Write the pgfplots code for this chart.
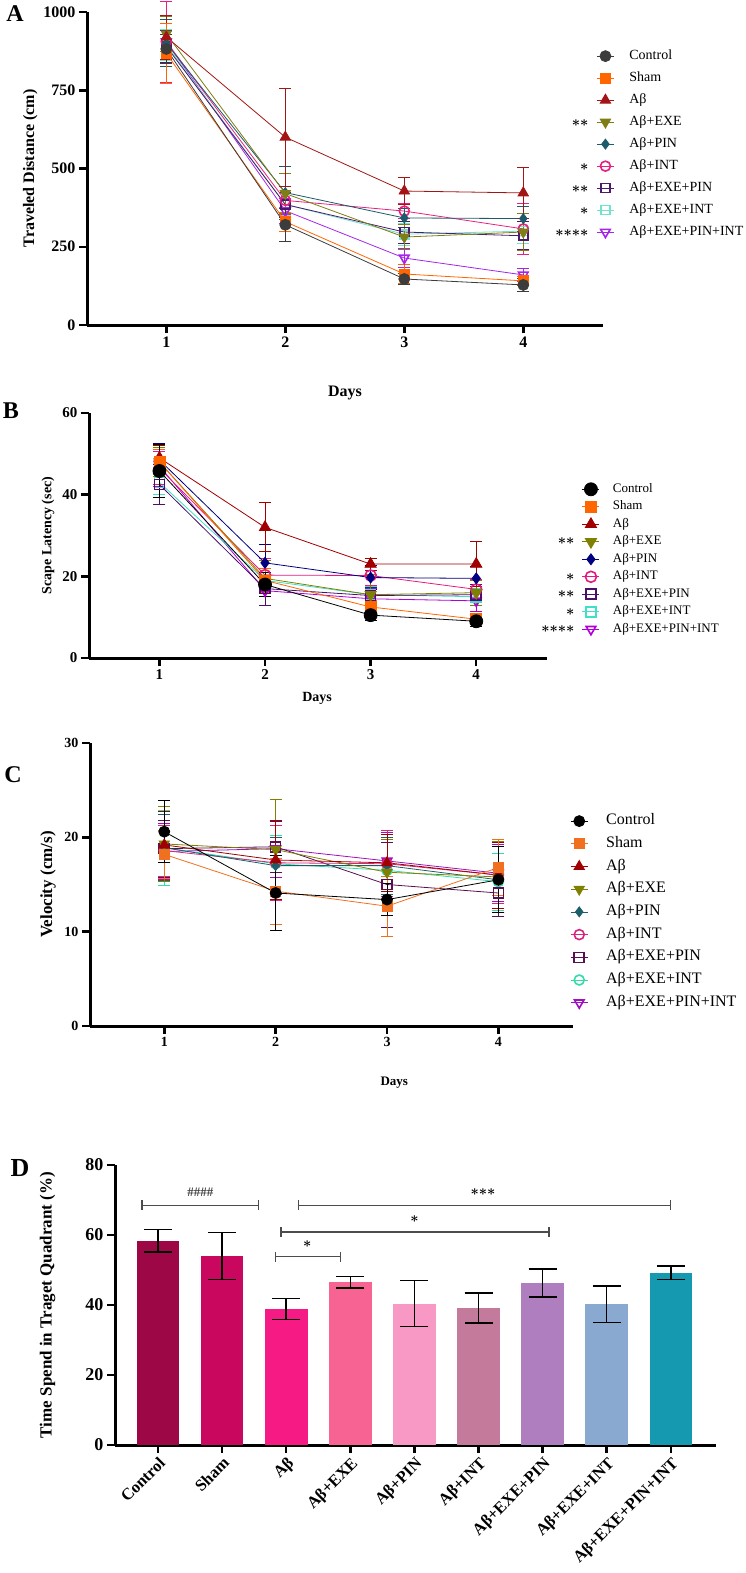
\documentclass[border=0pt]{standalone}
\usepackage{fontspec}
\setmainfont{Liberation Serif}
\usepackage{pgfplots}
\pgfplotsset{compat=1.18}
% panel A colours
\definecolor{a1}{HTML}{3C3C3C}\definecolor{a2}{HTML}{FF6600}\definecolor{a3}{HTML}{A31515}
\definecolor{a4}{HTML}{7E7E14}\definecolor{a5}{HTML}{1B5B6B}\definecolor{a6}{HTML}{E8207F}
\definecolor{a7}{HTML}{4B1A6B}\definecolor{a8}{HTML}{6FE3CB}\definecolor{a9}{HTML}{A526E8}
% panel B colours
\definecolor{b1}{HTML}{000000}\definecolor{b2}{HTML}{FF6600}\definecolor{b3}{HTML}{A00000}
\definecolor{b4}{HTML}{808000}\definecolor{b5}{HTML}{000080}\definecolor{b6}{HTML}{E6197E}
\definecolor{b7}{HTML}{4B0F6B}\definecolor{b8}{HTML}{3FE0C8}\definecolor{b9}{HTML}{B000D8}
% panel C colours
\definecolor{c1}{HTML}{000000}\definecolor{c2}{HTML}{F07020}\definecolor{c3}{HTML}{A00000}
\definecolor{c4}{HTML}{808000}\definecolor{c5}{HTML}{1C5F6B}\definecolor{c6}{HTML}{D8257D}
\definecolor{c7}{HTML}{5A1050}\definecolor{c8}{HTML}{33DDAA}\definecolor{c9}{HTML}{A010C0}
% panel D colours
\definecolor{d1}{HTML}{9E0746}\definecolor{d2}{HTML}{C9075F}\definecolor{d3}{HTML}{F51A84}
\definecolor{d4}{HTML}{F76494}\definecolor{d5}{HTML}{F799C4}\definecolor{d6}{HTML}{C47A9B}
\definecolor{d7}{HTML}{AE7EBE}\definecolor{d8}{HTML}{8AA9D1}\definecolor{d9}{HTML}{1599B1}

\pgfplotsset{
  panel/.style={
    scale only axis, anchor=south west, clip=false,
    axis x line*=bottom, axis y line*=left,
    axis line style={line width=3pt, -},
    tick align=outside, major tick length=8pt,
    every tick/.style={black, line width=2.5pt},
    /pgf/number format/assume math mode=true,
    /pgf/number format/1000 sep={},
    xmin=0.3333, xmax=4.67, xtick={1,2,3,4},
    reverse legend, legend cell align=left,
  },
  eb/.style={error bars/y dir=both, error bars/y explicit,
     error bars/error bar style={line width=0.8pt, solid},
     error bars/error mark options={rotate=90, line width=0.8pt, mark size=#1, solid}},
  eb/.default=6pt,
  fser/.style n args={4}{color=#1, line width=0.8pt, mark=#2, mark size=#3,
     mark options={solid, fill=#1, line width=0.8pt, #4}},
  oser/.style n args={4}{color=#1, line width=0.8pt, mark=#2, mark size=#3,
     mark options={solid, fill=white, line width=1.6pt, #4}},
}
\newcommand{\stars}[1]{{\fontsize{15}{15}\selectfont\boldmath$#1$}}

\begin{document}
\begin{tikzpicture}[x=1pt,y=1pt]
\path[use as bounding box] (0,0) rectangle (746,-1573);

% ---------------- Panel A ----------------
\begin{axis}[panel, at={(87pt,-325pt)}, width=516pt, height=313pt,
  ymin=0, ymax=1000, ytick={0,250,500,750,1000},
  tick label style={font=\fontsize{16}{16}\selectfont\bfseries},
  xlabel={Days}, ylabel={Traveled Distance (cm)},
  every axis x label/.style={at={(axis description cs:0.5,-0.217)}, anchor=center, font=\fontsize{16}{16}\selectfont\bfseries},
  every axis y label/.style={at={(axis description cs:-0.110,0.5)}, rotate=90, anchor=center, font=\fontsize{16}{16}\selectfont\bfseries},
  legend style={draw=none, fill=none, at={(axis description cs:0.987,0.882)}, anchor=north west,
    font=\fontsize{14}{14}\selectfont, row sep=8pt, column sep=15pt, inner sep=0pt,
    nodes={inner sep=0pt, text height=10pt, text depth=4pt}},
]
\addplot[oser={a9}{triangle}{5.5pt}{rotate=180}, eb] coordinates {(1,905)+-(0,60) (2,365)+-(0,40) (3,214)+-(0,30) (4,160)+-(0,20)};
\addlegendentry{Aβ+EXE+PIN+INT}
\addplot[oser={a8}{square}{4.5pt}{}, eb] coordinates {(1,895)+-(0,50) (2,385)+-(0,35) (3,290)+-(0,35) (4,300)+-(0,40)};
\addlegendentry{Aβ+EXE+INT}
\addplot[oser={a7}{square}{4.5pt}{}, eb] coordinates {(1,890)+-(0,50) (2,385)+-(0,40) (3,297)+-(0,35) (4,285)+-(0,45)};
\addlegendentry{Aβ+EXE+PIN}
\addplot[oser={a6}{o}{5pt}{}, eb] coordinates {(1,905)+-(0,130) (2,398)+-(0,45) (3,364)+-(0,25) (4,307)+-(0,80)};
\addlegendentry{Aβ+INT}
\addplot[fser={a5}{diamond*}{5pt}{}, eb] coordinates {(1,900)+-(0,75) (2,423)+-(0,85) (3,342)+-(0,30) (4,340)+-(0,40)};
\addlegendentry{Aβ+PIN}
\addplot[fser={a4}{triangle*}{6pt}{rotate=180}, eb] coordinates {(1,930)+-(0,55) (2,420)+-(0,65) (3,281)+-(0,40) (4,297)+-(0,60)};
\addlegendentry{Aβ+EXE}
\addplot[fser={a3}{triangle*}{6pt}{}, eb] coordinates {(1,920)+-(0,70) (2,600)+-(0,157) (3,428)+-(0,42) (4,422)+-(0,80)};
\addlegendentry{Aβ}
\addplot[fser={a2}{square*}{5pt}{}, eb] coordinates {(1,868)+-(0,95) (2,330)+-(0,30) (3,163)+-(0,30) (4,141)+-(0,15)};
\addlegendentry{Sham}
\addplot[fser={a1}{*}{5.5pt}{}, eb] coordinates {(1,882)+-(0,45) (2,320)+-(0,52) (3,147)+-(0,18) (4,128)+-(0,20)};
\addlegendentry{Control}
\end{axis}
\node[anchor=east] at (592,-123) {\stars{{\ast}{\ast}}};
\node[anchor=east] at (592,-167) {\stars{{\ast}}};
\node[anchor=east] at (592,-189) {\stars{{\ast}{\ast}}};
\node[anchor=east] at (592,-211) {\stars{{\ast}}};
\node[anchor=east] at (592,-233) {\stars{{\ast}{\ast}{\ast}{\ast}}};
\node[font=\fontsize{24}{24}\selectfont\bfseries] at (15,-14) {A};

% ---------------- Panel B ----------------
\begin{axis}[panel, at={(89pt,-658pt)}, width=458pt, height=245pt,
  ymin=0, ymax=60, ytick={0,20,40,60},
  tick label style={font=\fontsize{15}{15}\selectfont\bfseries},
  xlabel={Days}, ylabel={Scape Latency (sec)},
  every axis x label/.style={at={(axis description cs:0.498,-0.167)}, anchor=center, font=\fontsize{14}{14}\selectfont\bfseries},
  every axis y label/.style={at={(axis description cs:-0.0895,0.5)}, rotate=90, anchor=center, font=\fontsize{14}{14}\selectfont\bfseries},
  legend style={draw=none, fill=none, at={(axis description cs:1.076,0.716)}, anchor=north west,
    font=\fontsize{13}{13}\selectfont, row sep=4.5pt, column sep=13pt, inner sep=0pt,
    nodes={inner sep=0pt, text height=9.5pt, text depth=3.5pt}},
]
\addplot[oser={b9}{triangle}{5.5pt}{rotate=180}, eb] coordinates {(1,47)+-(0,5) (2,16.5)+-(0,3.5) (3,14.5)+-(0,2.5) (4,14)+-(0,2.5)};
\addlegendentry{Aβ+EXE+PIN+INT}
\addplot[oser={b8}{square}{5pt}{}, eb] coordinates {(1,43)+-(0,3) (2,19)+-(0,3) (3,15.5)+-(0,2) (4,15)+-(0,2)};
\addlegendentry{Aβ+EXE+INT}
\addplot[oser={b7}{square}{5pt}{}, eb] coordinates {(1,42.5)+-(0,5) (2,17)+-(0,4) (3,15.3)+-(0,2) (4,15.5)+-(0,2.5)};
\addlegendentry{Aβ+EXE+PIN}
\addplot[oser={b6}{o}{5.5pt}{}, eb] coordinates {(1,46.5)+-(0,4) (2,20.3)+-(0,4) (3,20.2)+-(0,2.5) (4,16.8)+-(0,2.5)};
\addlegendentry{Aβ+INT}
\addplot[fser={b5}{diamond*}{5.5pt}{}, eb] coordinates {(1,48.5)+-(0,4) (2,23.3)+-(0,4.5) (3,19.7)+-(0,3) (4,19.5)+-(0,3)};
\addlegendentry{Aβ+PIN}
\addplot[fser={b4}{triangle*}{6.5pt}{rotate=180}, eb] coordinates {(1,48)+-(0,3.5) (2,19.5)+-(0,4.5) (3,15.5)+-(0,5) (4,16)+-(0,3)};
\addlegendentry{Aβ+EXE}
\addplot[fser={b3}{triangle*}{6.5pt}{}, eb] coordinates {(1,49)+-(0,3) (2,32)+-(0,6) (3,23)+-(0,1.5) (4,23)+-(0,5.5)};
\addlegendentry{Aβ}
\addplot[fser={b2}{square*}{5.5pt}{}, eb] coordinates {(1,48)+-(0,3) (2,19)+-(0,3) (3,12.5)+-(0,1.5) (4,9.5)+-(0,1)};
\addlegendentry{Sham}
\addplot[fser={b1}{*}{6.5pt}{}, eb] coordinates {(1,45.8)+-(0,6.5) (2,18)+-(0,3) (3,10.5)+-(0,1.2) (4,9)+-(0,1.2)};
\addlegendentry{Control}
\end{axis}
\node[anchor=east] at (578,-541) {\stars{{\ast}{\ast}}};
\node[anchor=east] at (578,-577) {\stars{{\ast}}};
\node[anchor=east] at (578,-594) {\stars{{\ast}{\ast}}};
\node[anchor=east] at (578,-612) {\stars{{\ast}}};
\node[anchor=east] at (578,-629) {\stars{{\ast}{\ast}{\ast}{\ast}}};
\node[font=\fontsize{24}{24}\selectfont\bfseries] at (11,-411) {B};

% ---------------- Panel C ----------------
\begin{axis}[panel, at={(90pt,-1026pt)}, width=483pt, height=283pt,
  ymin=0, ymax=30, ytick={0,10,20,30},
  tick label style={font=\fontsize{14}{14}\selectfont\bfseries},
  xlabel={Days}, ylabel={Velocity (cm/s)},
  every axis x label/.style={at={(axis description cs:0.63,-0.20)}, anchor=center, font=\fontsize{13}{13}\selectfont\bfseries},
  every axis y label/.style={at={(axis description cs:-0.087,0.5)}, rotate=90, anchor=center, font=\fontsize{17}{17}\selectfont\bfseries},
  legend style={draw=none, fill=none, at={(axis description cs:0.994,0.753)}, anchor=north west,
    font=\fontsize{16}{16}\selectfont, row sep=6.7pt, column sep=18pt, inner sep=0pt,
    nodes={inner sep=0pt, text height=11.5pt, text depth=4.5pt}},
]
\addplot[oser={c9}{triangle}{5.5pt}{rotate=180}, eb] coordinates {(1,18.5)+-(0,3) (2,18.8)+-(0,3) (3,17.5)+-(0,3) (4,16.2)+-(0,3)};
\addlegendentry{Aβ+EXE+PIN+INT}
\addplot[oser={c8}{o}{5pt}{}, eb] coordinates {(1,18.9)+-(0,4) (2,17.2)+-(0,3) (3,16.5)+-(0,3) (4,15.3)+-(0,3)};
\addlegendentry{Aβ+EXE+INT}
\addplot[oser={c7}{square}{5pt}{}, eb] coordinates {(1,18.8)+-(0,3) (2,19)+-(0,2.7) (3,15)+-(0,4.5) (4,14.1)+-(0,2.5)};
\addlegendentry{Aβ+EXE+PIN}
\addplot[oser={c6}{o}{5pt}{}, eb] coordinates {(1,18.6)+-(0,2.7) (2,17.3)+-(0,4) (3,17.2)+-(0,3.5) (4,16)+-(0,3)};
\addlegendentry{Aβ+INT}
\addplot[fser={c5}{diamond*}{5pt}{}, eb] coordinates {(1,18.9)+-(0,3.5) (2,17)+-(0,3) (3,17)+-(0,3) (4,15.5)+-(0,3.5)};
\addlegendentry{Aβ+PIN}
\addplot[fser={c4}{triangle*}{6pt}{rotate=180}, eb] coordinates {(1,19.3)+-(0,4) (2,18.7)+-(0,5.3) (3,16.3)+-(0,3.5) (4,15.8)+-(0,3.8)};
\addlegendentry{Aβ+EXE}
\addplot[fser={c3}{triangle*}{6pt}{}, eb] coordinates {(1,19.2)+-(0,3.5) (2,17.6)+-(0,4.2) (3,17.3)+-(0,3) (4,16)+-(0,3.5)};
\addlegendentry{Aβ}
\addplot[fser={c2}{square*}{5pt}{}, eb] coordinates {(1,18.2)+-(0,2.5) (2,14.3)+-(0,3.5) (3,12.7)+-(0,3.2) (4,16.8)+-(0,3)};
\addlegendentry{Sham}
\addplot[fser={c1}{*}{5.5pt}{}, eb] coordinates {(1,20.6)+-(0,3.3) (2,14.1)+-(0,4) (3,13.4)+-(0,1.7) (4,15.5)+-(0,3.5)};
\addlegendentry{Control}
\end{axis}
\node[font=\fontsize{24}{24}\selectfont\bfseries] at (13,-775) {C};

% ---------------- Panel D ----------------
\begin{axis}[at={(115pt,-1445pt)}, anchor=south west, scale only axis, clip=false,
  width=601pt, height=280pt,
  axis x line*=bottom, axis y line*=left,
  axis line style={line width=3pt, -},
  tick align=outside, major tick length=8pt,
  every tick/.style={black, line width=2.5pt},
  /pgf/number format/assume math mode=true,
  xmin=-0.671, xmax=8.705, ymin=0, ymax=80, ytick={0,20,40,60,80},
  xtick={0,1,2,3,4,5,6,7,8},
  xticklabels={Control,Sham,Aβ,Aβ+EXE,Aβ+PIN,Aβ+INT,Aβ+EXE+PIN,Aβ+EXE+INT,Aβ+EXE+PIN+INT},
  yticklabel style={font=\fontsize{18}{18}\selectfont\bfseries},
  xticklabel style={font=\fontsize{16.5}{16.5}\selectfont\bfseries, rotate=45, anchor=north east, inner sep=2pt},
  ylabel={Time Spend in Traget Quadrant (\%)},
  every axis y label/.style={at={(axis description cs:-0.112,0.5)}, rotate=90, anchor=center, font=\fontsize{17}{17}\selectfont\bfseries},
  dbar/.style={ybar, bar width=42.6pt, fill=#1, draw=none,
     error bars/y dir=both, error bars/y explicit,
     error bars/error bar style={black, line width=1.5pt},
     error bars/error mark options={rotate=90, black, line width=1.5pt, mark size=14pt}},
]
\addplot[dbar=d1] coordinates {(0,58.4)+-(0,3.2)};
\addplot[dbar=d2] coordinates {(1,54.0)+-(0,6.7)};
\addplot[dbar=d3] coordinates {(2,38.8)+-(0,3.0)};
\addplot[dbar=d4] coordinates {(3,46.5)+-(0,1.6)};
\addplot[dbar=d5] coordinates {(4,40.4)+-(0,6.6)};
\addplot[dbar=d6] coordinates {(5,39.2)+-(0,4.3)};
\addplot[dbar=d7] coordinates {(6,46.3)+-(0,4.0)};
\addplot[dbar=d8] coordinates {(7,40.2)+-(0,5.2)};
\addplot[dbar=d9] coordinates {(8,49.2)+-(0,1.9)};
% significance brackets
\draw[line width=1.3pt, color=black!70] (axis cs:-0.25,68.5) -- (axis cs:1.57,68.5)
   (axis cs:-0.25,67.1) -- (axis cs:-0.25,69.9) (axis cs:1.57,67.1) -- (axis cs:1.57,69.9);
\draw[line width=1.3pt, color=black!70] (axis cs:2.19,68.5) -- (axis cs:8.0,68.5)
   (axis cs:2.19,67.1) -- (axis cs:2.19,69.9) (axis cs:8.0,67.1) -- (axis cs:8.0,69.9);
\draw[line width=1.3pt, color=black!70] (axis cs:1.92,60.9) -- (axis cs:6.1,60.9)
   (axis cs:1.92,59.5) -- (axis cs:1.92,62.3) (axis cs:6.1,59.5) -- (axis cs:6.1,62.3);
\draw[line width=1.3pt, color=black!70] (axis cs:1.83,53.8) -- (axis cs:2.85,53.8)
   (axis cs:1.83,52.4) -- (axis cs:1.83,55.2) (axis cs:2.85,52.4) -- (axis cs:2.85,55.2);
\node[font=\fontsize{13}{13}\selectfont\bfseries, text=black!75] at (axis cs:0.66,72.3) {\#\#\#\#};
\node at (axis cs:5.07,72.3) {\stars{{\ast}{\ast}{\ast}}};
\node at (axis cs:4.0,64.6) {\stars{{\ast}}};
\node at (axis cs:2.33,57.4) {\stars{{\ast}}};
\end{axis}
\node[font=\fontsize{26}{26}\selectfont\bfseries] at (20,-1168) {D};
\end{tikzpicture}
\end{document}
